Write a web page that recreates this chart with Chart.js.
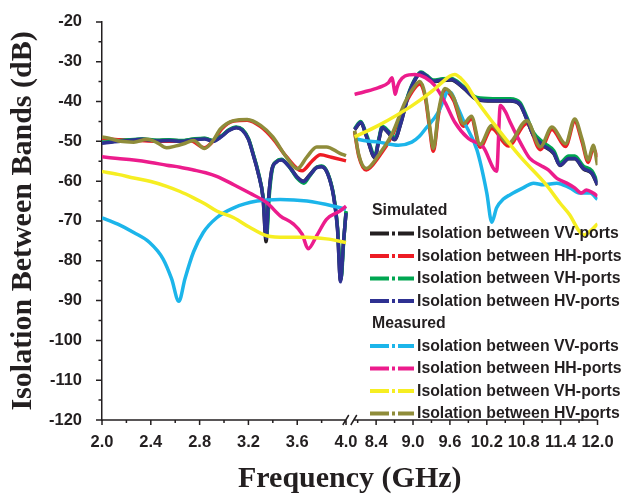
<!DOCTYPE html>
<html>
<head>
<meta charset="utf-8">
<title>Isolation Between Bands</title>
<script src="https://cdn.jsdelivr.net/npm/chart.js@4.4.1/dist/chart.umd.min.js"></script>
<style>
  html, body { margin: 0; padding: 0; background: #fff; }
</style>
</head>
<body>
<canvas id="iso-chart" width="624" height="499"></canvas>
<script>
// [frequency GHz, isolation dB] - low band 2-4 GHz, then high band 8-12 GHz
const simVV = [
  [2.0,-50.4],[2.1,-50.0],[2.22,-49.7],[2.33,-49.5],[2.45,-49.8],[2.55,-49.7],[2.65,-49.9],[2.75,-49.5],
  [2.84,-49.3],[2.91,-49.9],[2.98,-48.7],[3.04,-47.2],[3.1,-46.5],[3.15,-47.1],[3.2,-49.4],[3.24,-53.4],
  [3.28,-57.9],[3.32,-64.3],[3.345,-75.2],[3.365,-64.6],[3.39,-57.4],[3.43,-55.1],[3.47,-54.6],[3.53,-56.1],
  [3.6,-59.0],[3.65,-60.0],[3.7,-58.5],[3.76,-56.5],[3.8,-56.3],[3.85,-58.1],[3.9,-64.0],[3.93,-71.8],
  [3.955,-85.0],[3.98,-75.2],[4.0,-67.8],
  [8.05,-47.1],[8.15,-45.4],[8.25,-49.1],[8.38,-54.1],[8.44,-50.1],[8.5,-46.6],[8.6,-47.9],[8.7,-49.6],
  [8.8,-45.6],[8.92,-38.7],[9.05,-34.1],[9.13,-32.9],[9.22,-33.7],[9.33,-35.0],[9.48,-34.7],[9.62,-34.6],
  [9.82,-36.6],[10.04,-39.5],[10.3,-39.9],[10.58,-39.9],[10.74,-40.8],[10.84,-44.1],[10.96,-48.6],[11.12,-51.1],
  [11.29,-53.1],[11.39,-56.1],[11.53,-54.4],[11.63,-54.4],[11.77,-56.9],[11.91,-58.1],[12.0,-61.0]
];
const simHH = [
  [2.0,-49.3],[2.15,-49.6],[2.3,-49.8],[2.45,-50.0],[2.6,-50.0],[2.72,-49.8],[2.84,-51.6],[2.92,-49.6],
  [2.98,-46.9],[3.08,-44.9],[3.19,-44.7],[3.3,-46.3],[3.4,-49.3],[3.51,-53.8],[3.64,-57.4],[3.72,-55.0],
  [3.79,-53.4],[3.88,-54.0],[4.0,-54.9],
  [8.05,-47.6],[8.12,-53.8],[8.24,-57.2],[8.44,-54.0],[8.66,-48.6],[8.87,-40.8],[9.03,-36.6],[9.11,-35.6],
  [9.2,-39.0],[9.27,-46.8],[9.33,-52.5],[9.42,-42.8],[9.52,-37.3],[9.66,-39.7],[9.82,-46.2],[9.95,-44.4],
  [10.09,-51.5],[10.28,-46.8],[10.55,-51.2],[10.85,-45.5],[11.07,-52.1],[11.26,-47.0],[11.48,-51.3],
  [11.63,-45.0],[11.75,-50.2],[11.85,-55.3],[11.93,-51.8],[12.0,-54.0]
];
const simVH = [
  [2.0,-50.2],[2.1,-50.0],[2.22,-49.6],[2.33,-49.4],[2.45,-49.7],[2.55,-49.6],[2.65,-49.8],[2.75,-49.4],
  [2.84,-49.2],[2.91,-49.8],[2.98,-48.6],[3.04,-47.1],[3.1,-46.4],[3.15,-47.0],[3.2,-49.3],[3.24,-53.2],
  [3.28,-57.6],[3.32,-63.8],[3.35,-73.5],[3.37,-64.0],[3.395,-57.2],[3.43,-55.0],[3.47,-54.5],[3.53,-56.2],
  [3.6,-59.3],[3.655,-60.5],[3.7,-58.8],[3.76,-56.5],[3.8,-56.2],[3.85,-58.0],[3.9,-63.8],[3.93,-71.5],
  [3.96,-84.5],[3.98,-75.5],[4.0,-67.5],
  [8.05,-46.8],[8.15,-45.0],[8.25,-48.6],[8.38,-53.5],[8.44,-49.6],[8.5,-46.2],[8.6,-47.4],[8.7,-49.0],
  [8.8,-45.1],[8.92,-38.3],[9.05,-33.8],[9.13,-32.6],[9.22,-33.4],[9.33,-34.6],[9.48,-34.3],[9.62,-34.2],
  [9.82,-36.2],[10.04,-39.0],[10.3,-39.3],[10.58,-39.3],[10.74,-40.3],[10.84,-43.5],[10.96,-47.8],[11.12,-50.3],
  [11.29,-52.4],[11.39,-55.4],[11.53,-53.7],[11.63,-53.7],[11.77,-56.2],[11.91,-57.4],[12.0,-60.3]
];
const simHV = [
  [2.0,-50.5],[2.1,-50.1],[2.22,-49.8],[2.33,-49.5],[2.45,-49.9],[2.55,-49.8],[2.65,-50.0],[2.75,-49.6],
  [2.84,-49.4],[2.91,-50.0],[2.98,-48.8],[3.04,-47.3],[3.1,-46.6],[3.15,-47.2],[3.2,-49.5],[3.24,-53.5],
  [3.28,-58.0],[3.32,-64.2],[3.345,-74.3],[3.365,-64.5],[3.39,-57.5],[3.43,-55.2],[3.47,-54.7],[3.53,-56.2],
  [3.6,-59.0],[3.65,-60.1],[3.7,-58.6],[3.76,-56.6],[3.8,-56.4],[3.85,-58.2],[3.9,-64.2],[3.93,-72.0],
  [3.955,-85.3],[3.98,-75.0],[4.0,-68.0],
  [8.05,-47.0],[8.15,-45.3],[8.25,-49.0],[8.38,-54.0],[8.44,-50.0],[8.5,-46.5],[8.6,-47.8],[8.7,-49.5],
  [8.8,-45.5],[8.92,-38.6],[9.05,-34.0],[9.13,-32.8],[9.22,-33.6],[9.33,-34.9],[9.48,-34.6],[9.62,-34.5],
  [9.82,-36.5],[10.04,-39.4],[10.3,-39.8],[10.58,-39.8],[10.74,-40.7],[10.84,-44.0],[10.96,-48.5],[11.12,-51.0],
  [11.29,-53.0],[11.39,-56.0],[11.53,-54.3],[11.63,-54.3],[11.77,-56.8],[11.91,-58.0],[12.0,-60.9]
];
const measVV = [
  [2.0,-69.2],[2.13,-70.8],[2.26,-72.9],[2.39,-75.4],[2.5,-79.5],[2.57,-84.5],[2.63,-90.2],[2.68,-84.5],
  [2.75,-77.8],[2.83,-72.9],[2.94,-69.2],[3.08,-66.7],[3.27,-65.0],[3.46,-64.6],[3.68,-65.0],[3.9,-66.3],
  [4.0,-67.1],
  [8.05,-49.3],[8.2,-49.8],[8.44,-50.2],[8.76,-51.0],[8.98,-50.2],[9.1,-48.8],[9.2,-46.9],[9.41,-42.7],
  [9.5,-39.5],[9.56,-37.5],[9.62,-37.8],[9.7,-40.5],[9.82,-44.8],[10.04,-52.2],[10.2,-63.0],[10.28,-70.3],
  [10.36,-66.7],[10.47,-64.5],[10.58,-63.4],[10.79,-61.7],[10.96,-60.5],[11.12,-60.9],[11.34,-60.5],
  [11.55,-61.7],[11.72,-63.0],[11.88,-63.0],[12.0,-64.6]
];
const measHH = [
  [2.0,-53.9],[2.13,-54.3],[2.26,-54.7],[2.4,-55.3],[2.53,-56.0],[2.64,-56.5],[2.75,-57.2],[2.85,-57.9],
  [2.94,-58.8],[3.08,-60.9],[3.21,-63.0],[3.35,-65.4],[3.46,-68.7],[3.57,-70.8],[3.64,-73.3],[3.69,-77.0],
  [3.76,-73.7],[3.84,-69.6],[3.95,-67.5],[4.0,-66.3],
  [8.05,-38.2],[8.2,-37.6],[8.44,-36.5],[8.6,-35.3],[8.66,-34.0],[8.69,-36.5],[8.71,-38.2],[8.74,-36.5],
  [8.78,-35.0],[8.87,-33.6],[9.03,-33.2],[9.2,-34.0],[9.36,-36.1],[9.52,-40.2],[9.68,-45.2],[9.9,-49.3],
  [10.14,-51.4],[10.36,-57.5],[10.42,-41.0],[10.5,-42.5],[10.58,-45.2],[10.77,-51.0],[10.9,-54.3],
  [11.07,-56.0],[11.2,-57.2],[11.34,-59.3],[11.5,-60.5],[11.63,-61.7],[11.74,-63.0],[11.82,-62.2],
  [11.93,-63.0],[12.0,-63.8]
];
const measVH = [
  [2.0,-57.6],[2.13,-58.3],[2.26,-59.2],[2.4,-60.1],[2.53,-61.3],[2.64,-62.6],[2.75,-64.2],[2.85,-65.8],
  [2.94,-67.5],[3.08,-69.2],[3.21,-71.6],[3.35,-73.7],[3.51,-74.1],[3.68,-74.1],[3.84,-74.5],[4.0,-75.4],
  [8.05,-48.9],[8.44,-46.0],[8.98,-41.1],[9.31,-37.4],[9.5,-34.8],[9.6,-33.6],[9.68,-33.2],[9.78,-34.2],
  [9.88,-36.0],[10.0,-39.0],[10.31,-45.5],[10.74,-53.8],[11.17,-61.0],[11.39,-65.5],[11.55,-68.5],
  [11.7,-72.5],[11.78,-73.5],[11.9,-72.3],[12.0,-70.7]
];
const measHV = [
  [2.0,-48.9],[2.08,-49.4],[2.15,-50.0],[2.26,-50.2],[2.37,-49.5],[2.45,-50.3],[2.53,-51.6],[2.6,-51.2],
  [2.67,-50.6],[2.75,-49.8],[2.84,-51.8],[2.91,-49.8],[2.97,-46.9],[3.08,-44.8],[3.19,-44.5],[3.3,-46.0],
  [3.4,-48.9],[3.51,-53.9],[3.6,-56.9],[3.68,-53.9],[3.76,-51.4],[3.84,-51.4],[3.95,-53.0],[4.0,-53.6],
  [8.05,-47.3],[8.12,-53.5],[8.24,-56.8],[8.44,-53.5],[8.66,-48.1],[8.87,-40.2],[9.03,-36.1],[9.11,-35.0],
  [9.2,-38.5],[9.27,-46.0],[9.33,-51.8],[9.42,-42.0],[9.52,-36.7],[9.66,-39.0],[9.82,-45.6],[9.95,-43.7],
  [10.09,-50.8],[10.28,-46.0],[10.55,-50.5],[10.85,-44.8],[11.07,-51.4],[11.26,-46.4],[11.48,-50.6],
  [11.63,-44.4],[11.75,-49.5],[11.85,-54.7],[11.93,-51.0],[12.0,-56.0]
];

const xMajorTicks = [2.0, 2.4, 2.8, 3.2, 3.6, 4.0, 8.4, 9.0, 9.6, 10.2, 10.8, 11.4, 12.0];
const xTickLabels = ['2.0', '2.4', '2.8', '3.2', '3.6', '4.0', '8.4', '9.0', '9.6', '10.2', '10.8', '11.4', '12.0'];
const xMinorTicks = [2.2, 2.6, 3.0, 3.4, 3.8, 8.1, 8.7, 9.3, 9.9, 10.5, 11.1, 11.7];
const yMajorTicks = [-20, -30, -40, -50, -60, -70, -80, -90, -100, -110, -120];
const yMinorTicks = [-25, -35, -45, -55, -65, -75, -85, -95, -105, -115];

const INK = '#231f20';
const SANS = '"Liberation Sans", Arial, sans-serif';
const SERIF = '"Liberation Serif", "Times New Roman", serif';

// broken frequency axis: 2-4 GHz full scale, 8-12 GHz at half scale right after the break
const HIGH_START = 4.045;
const toAxis = f => (f <= 4.0 ? f : HIGH_START + (f - 8) * 0.504);

const toPoints = pairs => {
  const pts = [];
  pairs.forEach(([f, db], i) => {
    if (i > 0 && pairs[i - 1][0] <= 4.0 && f >= 8.0) pts.push({ x: 4.02, y: null });
    pts.push({ x: toAxis(f), y: db });
  });
  return pts;
};

const series = [
  { group: 'Simulated', label: 'Isolation between VV-ports', data: simVV, color: '#231f20', order: 7 },
  { group: 'Simulated', label: 'Isolation between HH-ports', data: simHH, color: '#ed1c24', order: 6 },
  { group: 'Simulated', label: 'Isolation between VH-ports', data: simVH, color: '#00a651', order: 5 },
  { group: 'Simulated', label: 'Isolation between HV-ports', data: simHV, color: '#2e3192', order: 4 },
  { group: 'Measured', label: 'Isolation between VV-ports', data: measVV, color: '#1cb5ea', order: 3 },
  { group: 'Measured', label: 'Isolation between HH-ports', data: measHH, color: '#ec1c8c', order: 2 },
  { group: 'Measured', label: 'Isolation between VH-ports', data: measVH, color: '#f6ee22', order: 0 },
  { group: 'Measured', label: 'Isolation between HV-ports', data: measHV, color: '#8f8c3a', order: 1 }
];

// axis line with the "//" break, plus major/minor tick marks
const axisDecor = {
  id: 'axisDecor',
  afterDraw(chart) {
    const { ctx, chartArea: { left, right, bottom }, scales: { x, y } } = chart;
    ctx.save();
    ctx.strokeStyle = INK;
    ctx.lineWidth = 1.5;
    const c = x.getPixelForValue((toAxis(4.0) + HIGH_START) / 2) + 1;
    ctx.beginPath();
    ctx.moveTo(left, bottom); ctx.lineTo(c - 4, bottom);
    ctx.moveTo(c + 4, bottom); ctx.lineTo(right, bottom);
    ctx.moveTo(c - 7, bottom + 5); ctx.lineTo(c - 1, bottom - 5);
    ctx.moveTo(c + 1, bottom + 5); ctx.lineTo(c + 7, bottom - 5);
    xMajorTicks.forEach(f => {
      const px = x.getPixelForValue(toAxis(f));
      ctx.moveTo(px, bottom); ctx.lineTo(px, bottom + 5);
    });
    xMinorTicks.forEach(f => {
      const px = x.getPixelForValue(toAxis(f));
      ctx.moveTo(px, bottom); ctx.lineTo(px, bottom + 3);
    });
    yMajorTicks.forEach(v => {
      const py = y.getPixelForValue(v);
      ctx.moveTo(left, py); ctx.lineTo(left - 6, py);
    });
    yMinorTicks.forEach(v => {
      const py = y.getPixelForValue(v);
      ctx.moveTo(left, py); ctx.lineTo(left - 3.5, py);
    });
    ctx.stroke();
    ctx.restore();
  }
};

// two-group legend with dash-dot line samples
const groupLegend = {
  id: 'groupLegend',
  afterDraw(chart) {
    const { ctx, chartArea } = chart;
    const x0 = chartArea.left + 268;
    let yPos = chartArea.top + 189;
    const step = 22.5;
    ctx.save();
    ctx.textAlign = 'left';
    ctx.textBaseline = 'middle';
    ['Simulated', 'Measured'].forEach(group => {
      ctx.font = 'bold 15.8px ' + SANS;
      ctx.fillStyle = INK;
      ctx.fillText(group, x0 + 2, yPos);
      yPos += step;
      chart.data.datasets.filter(d => d.group === group).forEach(d => {
        ctx.strokeStyle = d.borderColor;
        ctx.lineWidth = 4;
        ctx.beginPath();
        ctx.moveTo(x0, yPos); ctx.lineTo(x0 + 19, yPos);
        ctx.moveTo(x0 + 22, yPos); ctx.lineTo(x0 + 25, yPos);
        ctx.moveTo(x0 + 28, yPos); ctx.lineTo(x0 + 44, yPos);
        ctx.stroke();
        ctx.fillStyle = INK;
        ctx.fillText(d.label, x0 + 47, yPos + 0.5);
        yPos += step;
      });
    });
    ctx.restore();
  }
};

new Chart(document.getElementById('iso-chart'), {
  type: 'line',
  data: {
    datasets: series.map(s => ({
      label: s.label,
      group: s.group,
      data: toPoints(s.data),
      borderColor: s.color,
      borderWidth: 3.5,
      pointRadius: 0,
      fill: false,
      spanGaps: false,
      cubicInterpolationMode: 'monotone',
      order: s.order
    }))
  },
  options: {
    responsive: false,
    animation: false,
    devicePixelRatio: 1,
    layout: { padding: { top: 17, right: 26.5, bottom: 0, left: 0 } },
    plugins: {
      legend: { display: false },
      tooltip: { enabled: false }
    },
    scales: {
      x: {
        type: 'linear',
        min: 2,
        max: toAxis(12),
        afterBuildTicks: scale => { scale.ticks = xMajorTicks.map(f => ({ value: toAxis(f) })); },
        afterFit: scale => { scale.height = 79; },
        grid: { display: false },
        border: { display: false },
        ticks: {
          autoSkip: false,
          maxRotation: 0,
          padding: 5,
          color: INK,
          font: { family: SANS, size: 16.5, weight: 'bold' },
          callback: (value, index) => xTickLabels[index]
        },
        title: {
          display: true,
          text: 'Frequency (GHz)',
          color: INK,
          font: { family: SERIF, size: 30, weight: 'bold' },
          padding: { top: 0, bottom: 2 }
        }
      },
      y: {
        min: -120,
        max: -20,
        afterBuildTicks: scale => { scale.ticks = yMajorTicks.map(v => ({ value: v })); },
        afterFit: scale => { scale.width = 102; },
        grid: { display: false },
        border: { display: true, color: INK, width: 1.5 },
        ticks: {
          padding: 12,
          color: INK,
          font: { family: SANS, size: 16.5, weight: 'bold' },
          callback: value => String(value)
        },
        title: {
          display: true,
          text: 'Isolation Between Bands (dB)',
          color: INK,
          font: { family: SERIF, size: 30, weight: 'bold' },
          padding: { top: 5.5, bottom: 0 }
        }
      }
    }
  },
  plugins: [axisDecor, groupLegend]
});
</script>
</body>
</html>
